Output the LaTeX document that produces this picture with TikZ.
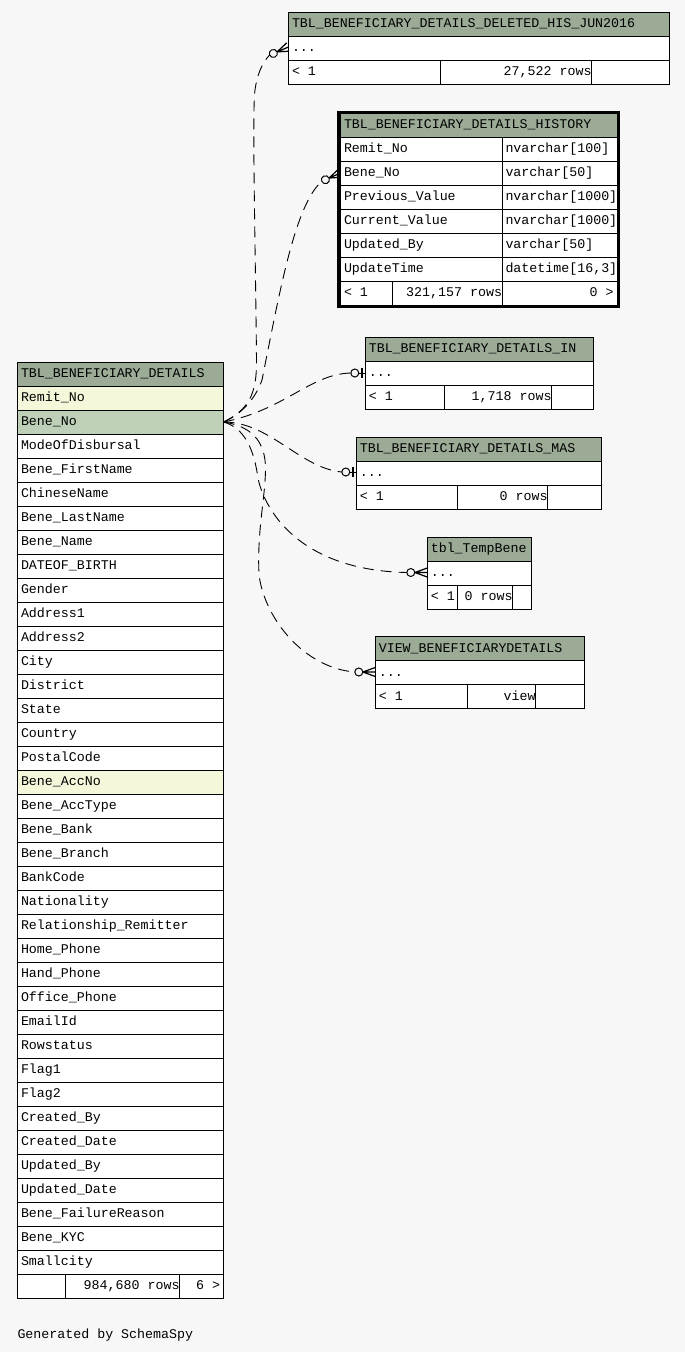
\documentclass[tikz,border=0pt]{standalone}
\usepackage{fontspec}
\newfontfamily\erdmono{Liberation Mono}
\newcommand\erdfont{\erdmono\fontsize{13.3}{16}\selectfont}
\definecolor{bgc}{HTML}{F7F7F7}
\definecolor{hdr}{HTML}{9BAB96}
\definecolor{keyrow}{HTML}{F4F7DA}
\definecolor{selrow}{HTML}{BED1B8}

% compact table: id, left, right, top, title, divider 1, divider 2, row count
\newcommand\erdcompact[8]{%
  \filldraw[hdrbox] (#2,#4) rectangle (#3,#4+24);
  \node[txt] (#1-h) at (#2+3,#4+15.7) {#5};
  \filldraw[cellbox] (#2,#4+24) rectangle (#3,#4+48);
  \node[txt] (#1-r) at (#2+3,#4+39.7) {...};
  \filldraw[cellbox] (#2,#4+48) rectangle (#3,#4+72);
  \draw (#6,#4+48) -- (#6,#4+72) (#7,#4+48) -- (#7,#4+72);
  \node[txt] (#1-l) at (#2+3,#4+63.7) {< 1};
  \node[rtxt] (#1-n) at (#7+0.5,#4+63.7) {#8};
}

\begin{document}
\begin{tikzpicture}[x=1pt,y=-1pt,line width=1pt,
  txt/.style={anchor=base west,inner sep=0pt,font=\erdfont},
  rtxt/.style={anchor=base east,inner sep=0pt,font=\erdfont},
  cellbox/.style={draw=black,fill=white},
  hdrbox/.style={draw=black,fill=hdr},
  rel/.style={line width=0.9pt,dash pattern=on 11pt off 7pt},
  pics/crowodot/.style={code={
    \draw[line width=1pt,fill=bgc] (-16.5,0) circle[radius=4];
    \draw[line width=1.2pt] (-12.5,0) -- (0,4.5) (-12.5,0) -- (0,0) (-12.5,0) -- (0,-4.5);
  }},
  pics/teeodot/.style={code={
    \draw[line width=1pt,fill=bgc] (-10.5,0) circle[radius=4];
    \draw[line width=1pt] (-6.5,0) -- (0,0);
    \draw[line width=2.2pt] (-3.5,-5) -- (-3.5,5);
  }}]

\fill[bgc] (0,0) rectangle (685,1352);
\useasboundingbox (0,0) rectangle (685,1352);

% relationship end points
\coordinate (bd-port) at (223.5,422);
\coordinate (del-port) at (288.5,47);    \coordinate (del-tail) at (269.6,55);
\coordinate (his-port) at (340.5,173);   \coordinate (his-tail) at (321.8,181.3);
\coordinate (in-port) at (365.3,373);    \coordinate (in-tail) at (350.8,373);
\coordinate (mas-port) at (356.3,472);   \coordinate (mas-tail) at (341.8,472);
\coordinate (tmp-port) at (427.3,572.5); \coordinate (tmp-tail) at (406.8,572.5);
\coordinate (vw-port) at (375.3,672);    \coordinate (vw-tail) at (354.8,672);

% relationships
\draw[rel] (bd-port) .. controls (248,410) and (257,395) .. (256.5,360)
  .. controls (255.5,250) and (252,110) .. (255,90)
  .. controls (257,75) and (262,63) .. (del-tail);
\draw[rel] (bd-port) .. controls (240,415) and (255,400) .. (262,380)
  .. controls (280,290) and (295,205) .. (his-tail);
\draw[rel] (bd-port) .. controls (285,410) and (310,374) .. (in-tail);
\draw[rel] (bd-port) .. controls (270,422) and (300,468) .. (mas-tail);
\draw[rel] (bd-port) .. controls (245,428) and (254,450) .. (258,478)
  .. controls (262,500) and (290,570) .. (tmp-tail);
\draw[rel] (bd-port) .. controls (250,426) and (266,440) .. (265.5,470)
  .. controls (265,500) and (257,530) .. (259,575)
  .. controls (265,620) and (305,668) .. (vw-tail);

\pic[rotate=23] (del-mark) at (del-port) {crowodot};
\pic[rotate=24] (his-mark) at (his-port) {crowodot};
\pic (in-mark) at (in-port) {teeodot};
\pic (mas-mark) at (mas-port) {teeodot};
\pic (tmp-mark) at (tmp-port) {crowodot};
\pic (vw-mark) at (vw-port) {crowodot};

% TBL_BENEFICIARY_DETAILS
\filldraw[hdrbox] (17.5,362) rectangle (223,386);
\node[txt] (bd-h) at (20.5,377.7) {TBL\_BENEFICIARY\_DETAILS};
\foreach \n [count=\i] in {Remit\_No, Bene\_No, ModeOfDisbursal, Bene\_FirstName,
  ChineseName, Bene\_LastName, Bene\_Name, DATEOF\_BIRTH, Gender, Address1,
  Address2, City, District, State, Country, PostalCode, Bene\_AccNo,
  Bene\_AccType, Bene\_Bank, Bene\_Branch, BankCode, Nationality,
  Relationship\_Remitter, Home\_Phone, Hand\_Phone, Office\_Phone, EmailId,
  Rowstatus, Flag1, Flag2, Created\_By, Created\_Date, Updated\_By,
  Updated\_Date, Bene\_FailureReason, Bene\_KYC, Smallcity} {
  \pgfmathsetmacro\rt{362+24*\i}
  \ifnum\i=1 \def\fc{keyrow}\else\ifnum\i=17 \def\fc{keyrow}\else
    \ifnum\i=2 \def\fc{selrow}\else\def\fc{white}\fi\fi\fi
  \filldraw[draw=black,fill=\fc] (17.5,\rt) rectangle (223,\rt+24);
  \node[txt] (bd-\i) at (20.5,\rt+15.7) {\n};
}
\filldraw[cellbox] (17.5,1274) rectangle (223,1298);
\draw (65.5,1274) -- (65.5,1298) (179.5,1274) -- (179.5,1298);
\node[rtxt] (bd-n) at (180,1289.7) {984,680 rows};
\node[rtxt] (bd-k) at (220.5,1289.7) {6 >};

% compact tables
\erdcompact{del}{288.5}{669}{12}{TBL\_BENEFICIARY\_DETAILS\_DELETED\_HIS\_JUN2016}{440.5}{591.5}{27,522 rows}
\erdcompact{in}{365.3}{593.3}{337}{TBL\_BENEFICIARY\_DETAILS\_IN}{444.5}{551.5}{1,718 rows}
\erdcompact{mas}{356.3}{601.7}{437}{TBL\_BENEFICIARY\_DETAILS\_MAS}{457.5}{547.5}{0 rows}
\erdcompact{tmp}{427.3}{531.7}{537}{tbl\_TempBene}{457.5}{512.5}{0 rows}
\erdcompact{vw}{375.3}{584.3}{636.5}{VIEW\_BENEFICIARYDETAILS}{467.5}{535.5}{view}

% TBL_BENEFICIARY_DETAILS_HISTORY
\filldraw[hdrbox] (340.5,113) rectangle (617,137);
\node[txt] (his-h) at (343.5,128.7) {TBL\_BENEFICIARY\_DETAILS\_HISTORY};
\foreach \a/\b [count=\i] in {Remit\_No/nvarchar[100], Bene\_No/varchar[50],
  Previous\_Value/nvarchar[1000], Current\_Value/nvarchar[1000],
  Updated\_By/varchar[50], UpdateTime/{datetime[16,3]}} {
  \pgfmathsetmacro\rt{113+24*\i}
  \filldraw[cellbox] (340.5,\rt) rectangle (617,\rt+24);
  \draw (502,\rt) -- (502,\rt+24);
  \node[txt] (his-\i) at (343.5,\rt+15.7) {\a};
  \node[txt] (his-t\i) at (505,\rt+15.7) {\b};
}
\filldraw[cellbox] (340.5,281) rectangle (617,305);
\draw (392.5,281) -- (392.5,305) (502,281) -- (502,305);
\node[txt] (his-l) at (343.5,296.7) {< 1};
\node[rtxt] (his-n) at (502.5,296.7) {321,157 rows};
\node[rtxt] (his-k) at (614,296.7) {0 >};
\draw[line width=3pt] (338,112) rectangle (618,306);

\node[txt] (credit) at (17,1338) {Generated by SchemaSpy};
\end{tikzpicture}
\end{document}
